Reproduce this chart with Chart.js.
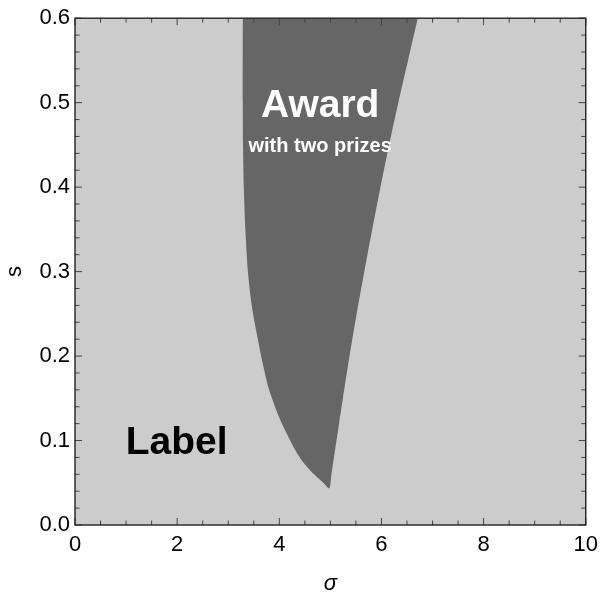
<!DOCTYPE html>
<html>
<head>
<meta charset="utf-8">
<script src="https://cdn.jsdelivr.net/npm/chart.js@4/dist/chart.umd.min.js"></script>
<style>
  html, body { margin: 0; padding: 0; background: #fff; }
  #wrap { width: 605px; height: 599px; }
</style>
</head>
<body>
<div id="wrap"><canvas id="chart" width="605" height="599"></canvas></div>
<script>
// region boundary (s on the vertical axis, sigma horizontal)
const leftS     = [0.6, 0.5, 0.45, 0.4, 0.35, 0.3, 0.26, 0.22, 0.19, 0.16, 0.13, 0.11, 0.09, 0.075, 0.06, 0.05];
const leftSigma = [3.285, 3.285, 3.29, 3.305, 3.335, 3.385, 3.46, 3.58, 3.68, 3.80, 3.98, 4.13, 4.30, 4.46, 4.68, 4.86];
const tipS = 0.0435;
const tipSigma = 4.98;
const rightS     = [0.06, 0.08, 0.1, 0.12, 0.15, 0.2, 0.25, 0.3, 0.35, 0.4, 0.45, 0.5, 0.55, 0.6];
const rightSigma = [5.02, 5.07, 5.12, 5.17, 5.245, 5.375, 5.515, 5.665, 5.82, 5.98, 6.15, 6.33, 6.52, 6.71];

// axis ticks
const xMajor = [0, 2, 4, 6, 8, 10];
const xMinor = [0.5, 1, 1.5, 2.5, 3, 3.5, 4.5, 5, 5.5, 6.5, 7, 7.5, 8.5, 9, 9.5];
const yMajor = [0, 0.1, 0.2, 0.3, 0.4, 0.5, 0.6];
const yMinor = [0.02, 0.04, 0.06, 0.08, 0.12, 0.14, 0.16, 0.18, 0.22, 0.24, 0.26, 0.28,
                0.32, 0.34, 0.36, 0.38, 0.42, 0.44, 0.46, 0.48, 0.52, 0.54, 0.56, 0.58];

// text inside the plot, placed in data coordinates
const notes = [
  { text: 'Award', x: 4.80, y: 0.483, size: 39, color: '#ffffff' },
  { text: 'with two prizes', x: 4.80, y: 0.442, size: 20, color: '#ffffff' },
  { text: 'Label', x: 1.99, y: 0.084, size: 39, color: '#000000' },
];

const FONT = "'Liberation Sans', Arial, sans-serif";

const polygon = [];
leftS.forEach((s, i) => polygon.push({ x: leftSigma[i], y: s }));
polygon.push({ x: tipSigma, y: tipS });
rightS.forEach((s, i) => polygon.push({ x: rightSigma[i], y: s }));

const plotBackground = {
  id: 'plotBackground',
  beforeDatasetsDraw(chart) {
    const { ctx, chartArea: a } = chart;
    ctx.save();
    ctx.fillStyle = '#cccccc';
    ctx.fillRect(a.left, a.top, a.right - a.left, a.bottom - a.top);
    ctx.restore();
  }
};

const frameTicks = {
  id: 'frameTicks',
  afterDatasetsDraw(chart) {
    const { ctx, chartArea: a, scales } = chart;
    const xs = scales.x, ys = scales.y;
    ctx.save();
    ctx.strokeStyle = '#444';
    ctx.lineWidth = 1;
    const mark = (vals, len, horiz) => {
      vals.forEach(v => {
        ctx.beginPath();
        if (horiz) {
          const px = xs.getPixelForValue(v);
          ctx.moveTo(px, a.bottom); ctx.lineTo(px, a.bottom - len);
          ctx.moveTo(px, a.top); ctx.lineTo(px, a.top + len);
        } else {
          const py = ys.getPixelForValue(v);
          ctx.moveTo(a.left, py); ctx.lineTo(a.left + len, py);
          ctx.moveTo(a.right, py); ctx.lineTo(a.right - len, py);
        }
        ctx.stroke();
      });
    };
    mark(xMajor, 7, true);
    mark(xMinor, 4.5, true);
    mark(yMajor, 7, false);
    mark(yMinor, 4.5, false);
    ctx.strokeStyle = '#222';
    ctx.lineWidth = 1.4;
    ctx.strokeRect(a.left, a.top, a.right - a.left, a.bottom - a.top);
    ctx.restore();
  }
};

const plotNotes = {
  id: 'plotNotes',
  afterDraw(chart) {
    const { ctx, scales } = chart;
    ctx.save();
    ctx.textAlign = 'center';
    ctx.textBaseline = 'alphabetic';
    notes.forEach(n => {
      ctx.font = `bold ${n.size}px ${FONT}`;
      ctx.fillStyle = n.color;
      ctx.fillText(n.text, scales.x.getPixelForValue(n.x), scales.y.getPixelForValue(n.y));
    });
    ctx.restore();
  }
};

new Chart(document.getElementById('chart'), {
  type: 'line',
  data: {
    datasets: [{
      data: polygon,
      fill: 'shape',
      backgroundColor: '#666666',
      borderColor: '#666666',
      borderWidth: 0,
      pointRadius: 0,
      tension: 0.25,
    }]
  },
  options: {
    responsive: false,
    animation: false,
    devicePixelRatio: 1,
    layout: { padding: { top: 8, right: 13, left: 0, bottom: 0 } },
    plugins: {
      legend: { display: false },
      tooltip: { enabled: false },
    },
    scales: {
      x: {
        type: 'linear',
        min: 0, max: 10,
        afterBuildTicks: s => { s.ticks = xMajor.map(v => ({ value: v })); },
        afterFit: s => { s.height = 74; },
        grid: { display: false, drawTicks: false },
        border: { display: false },
        ticks: {
          autoSkip: false, maxRotation: 0, padding: 7,
          color: '#000', font: { family: FONT, size: 22 },
          callback: v => String(v),
        },
        title: {
          display: true, text: 'σ', color: '#000',
          font: { family: FONT, size: 22, style: 'italic' },
          padding: { top: 0, bottom: 2 },
        },
      },
      y: {
        type: 'linear',
        min: 0, max: 0.6,
        afterBuildTicks: s => { s.ticks = yMajor.map(v => ({ value: v })); },
        afterFit: s => { s.width = 75; },
        grid: { display: false, drawTicks: false },
        border: { display: false },
        ticks: {
          autoSkip: false, padding: 5,
          color: '#000', font: { family: FONT, size: 22 },
          callback: v => v.toFixed(1),
        },
        title: {
          display: true, text: 's', color: '#000',
          font: { family: FONT, size: 22 },
          padding: { top: 2, bottom: 0 },
        },
      },
    },
  },
  plugins: [plotBackground, frameTicks, plotNotes],
});
</script>
</body>
</html>
